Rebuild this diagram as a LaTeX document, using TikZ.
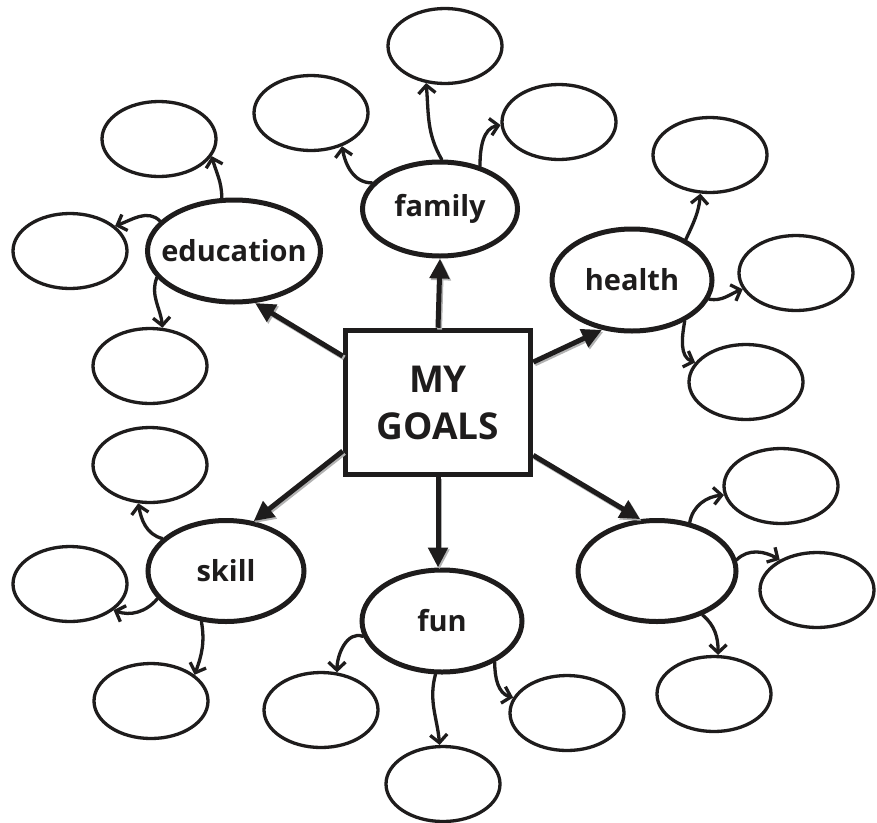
\documentclass[tikz,border=0pt]{standalone}
\usepackage{fontspec}
\setmainfont{Open Sans}
\usetikzlibrary{arrows.meta,shapes.geometric}
\definecolor{ink}{HTML}{1E1C1C}
\begin{document}
\begin{tikzpicture}[x=1pt,y=-1pt,
  every node/.style={text=ink},
  big/.style={ellipse,draw=ink,line width=5pt,inner sep=0pt,font=\fontsize{29}{34}\selectfont\bfseries},
  small/.style={ellipse,draw=ink,line width=3.3pt,inner sep=0pt,minimum width=114pt,minimum height=75pt},
  goalbox/.style={rectangle,draw=ink,line width=5.5pt,inner sep=0pt,minimum width=185pt,minimum height=144pt,align=center,font=\fontsize{37}{47}\selectfont\bfseries},
  bigarrow/.style={draw=ink,line width=5pt,-{Triangle[length=20pt,width=19pt]},
     preaction={draw=black!30,line width=5pt,-{Triangle[length=20pt,width=19pt]},transform canvas={shift={(1.5pt,-1.8pt)}}}},
  smallarrow/.style={draw=ink,line width=3.3pt,line cap=round,-{Straight Barb[length=8pt,width=17pt,line width=3.3pt]}}
]
\useasboundingbox (0,0) rectangle (877,822);
\fill[white] (0,0) rectangle (877,822);

% centre
\node[goalbox] (goals) at (438,402.5) {MY\\GOALS};

% main ellipses
\node[big,minimum width=155pt,minimum height=94pt] (fam) at (440,209) {\makebox[0pt]{family}};
\node[big,minimum width=173pt,minimum height=102pt] (edu) at (234,251) {\makebox[0pt]{education}};
\node[big,minimum width=160pt,minimum height=102pt] (hea) at (632,280) {\makebox[0pt]{health}};
\node[big,minimum width=156pt,minimum height=101pt] (ski) at (226,571) {\makebox[0pt]{skill}};
\node[big,minimum width=160pt,minimum height=102pt] (fun) at (442,621) {\makebox[0pt]{fun}};
\node[big,minimum width=158pt,minimum height=101pt] (bla) at (657,571) {};

% small ellipses
\node[small] (famT) at (445,46) {};
\node[small] (famR) at (559,122) {};
\node[small] (famL) at (311,113) {};
\node[small] (heaT) at (710,155) {};
\node[small] (heaR) at (796,273) {};
\node[small] (heaB) at (746,382) {};
\node[small] (eduT) at (159,139) {};
\node[small] (eduL) at (70,251) {};
\node[small] (eduB) at (150,366) {};
\node[small] (skiT) at (150,465) {};
\node[small] (skiL) at (70,584) {};
\node[small] (skiB) at (151,701) {};
\node[small] (funL) at (321,710) {};
\node[small] (funB) at (443,784) {};
\node[small] (funR) at (567,713) {};
\node[small] (blaT) at (781,486) {};
\node[small] (blaR) at (817,590) {};
\node[small] (blaB) at (714,694) {};

% thick arrows
\draw[bigarrow] (goals.north) -- (fam.south);
\draw[bigarrow] (goals.154) -- (edu.-68);
\draw[bigarrow] (goals.23) -- (hea.-121);
\draw[bigarrow] (goals.207) -- (ski.61);
\draw[bigarrow] (goals.south) -- (fun.north -| goals.south);
\draw[bigarrow] (goals.-29) -- (bla.108);

% thin curved arrows
\draw[smallarrow] (fam.88) to[out=120,in=-85] (famT.-117);
\draw[smallarrow] (fam.47) to[out=90,in=190] (famR.183);
\draw[smallarrow] (fam.159) to[out=180,in=-80] (famL.-47);

\draw[smallarrow] (hea.37) to[out=65,in=-95] (heaT.-104);
\draw[smallarrow] (hea.-14) to[out=-10,in=200] (heaR.197);
\draw[smallarrow] (hea.-38) to[out=-100,in=160] (heaB.159);

\draw[smallarrow] (edu.103) to[out=90,in=-75] (eduT.-18);
\draw[smallarrow] (edu.158) to[out=135,in=20] (eduL.29);
\draw[smallarrow] (edu.199) to[out=-110,in=95] (eduB.72);

\draw[smallarrow] (ski.153) to[out=165,in=-80] (skiT.-107);
\draw[smallarrow] (ski.202) to[out=-130,in=-20] (skiL.-31);
\draw[smallarrow] (ski.-116) to[out=-80,in=70] (skiB.31);

\draw[smallarrow] (fun.191) to[out=160,in=90] (funL.67);
\draw[smallarrow] (fun.-97) to[out=-105,in=95] (funB.95);
\draw[smallarrow] (fun.-38) to[out=-90,in=165] (funR.164);

\draw[smallarrow] (bla.56) to[out=80,in=185] (blaT.189);
\draw[smallarrow] (bla.8) to[out=45,in=150] (blaR.141);
\draw[smallarrow] (bla.-44) to[out=-40,in=90] (blaB.84);
\end{tikzpicture}
\end{document}
